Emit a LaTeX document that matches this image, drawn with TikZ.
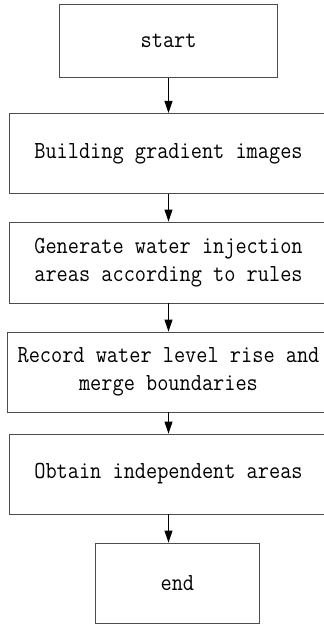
\documentclass[tikz,border=0pt]{standalone}
\usepackage{fontspec}
\usetikzlibrary{arrows.meta}
% Narrow, tall monospaced serif for the box labels
\newfontfamily\boxfont[FakeStretch=0.886]{Latin Modern Mono}
\tikzset{
  flowbox/.style={draw=black!70, line width=0.9pt, inner sep=0pt,
    align=center, font=\boxfont\fontsize{24.5}{27.7}\selectfont},
  flowarrow/.style={draw=black, line width=0.9pt,
    -{Triangle[length=12pt,width=8pt]}}
}
\begin{document}
\begin{tikzpicture}
  \useasboundingbox (0pt,0pt) rectangle (324pt,-624pt);
  \clip (0pt,0pt) rectangle (324pt,-624pt);

  \node[flowbox, minimum width=218pt, minimum height=72.5pt] (start) at (168.6pt,-40.8pt) {start};
  \node[flowbox, minimum width=319pt, minimum height=80pt] (build) at (168.5pt,-153.4pt) {Building gradient images};
  \node[flowbox, minimum width=319pt, minimum height=81pt] (gen) at (168.5pt,-262.5pt) {Generate water injection\\areas according to rules};
  \node[flowbox, minimum width=322pt, minimum height=80pt] (rec) at (168.5pt,-372pt) {Record water level rise and\\merge boundaries};
  \node[flowbox, minimum width=319pt, minimum height=80pt] (obt) at (168.5pt,-474pt) {Obtain independent areas};
  \node[flowbox, minimum width=163.3pt, minimum height=80pt] (end) at (177.4pt,-583pt) {end};

  \draw[flowarrow] (start.south -| build) -- (build.north);
  \draw[flowarrow] (build.south) -- (gen.north);
  \draw[flowarrow] (gen.south) -- (rec.north);
  \draw[flowarrow] (rec.south) -- (obt.north);
  \draw[flowarrow] (obt.south) -- (obt.south |- end.north);
\end{tikzpicture}
\end{document}
